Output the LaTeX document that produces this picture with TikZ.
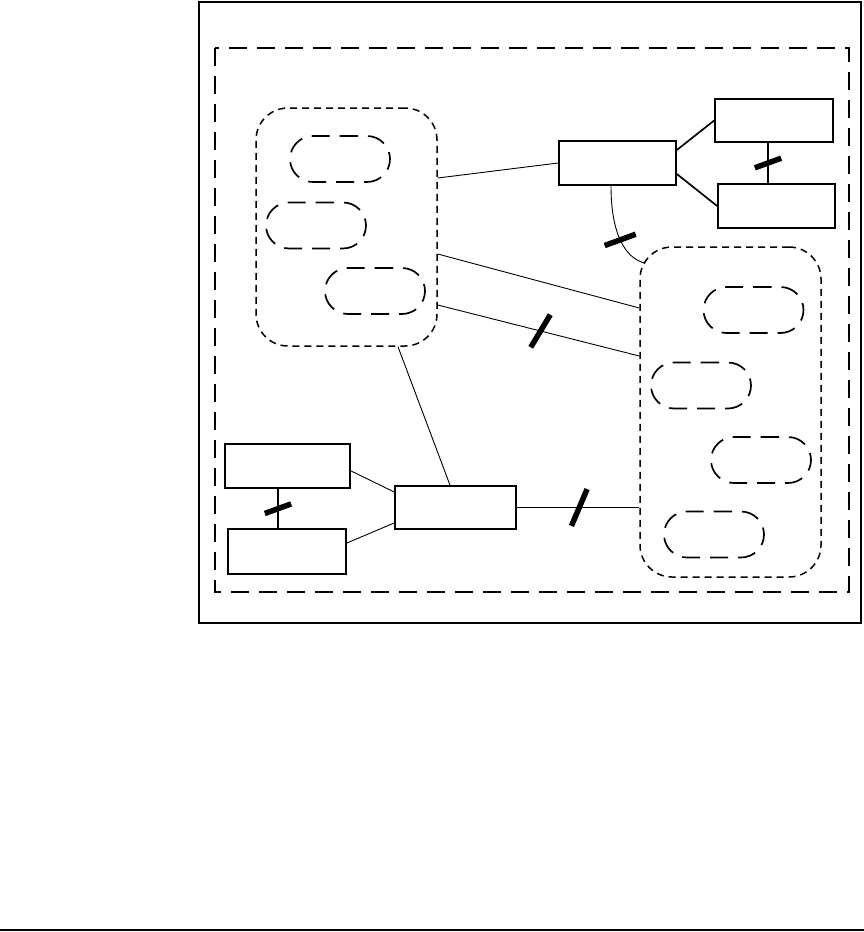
\documentclass[tikz,border=0pt]{standalone}
\usetikzlibrary{positioning,shapes.misc,calc}
\tikzset{
  block/.style={draw,line width=1.7pt,minimum width=117pt,minimum height=44pt,inner sep=0pt},
  group/.style={draw,line width=1.5pt,dash pattern=on 7pt off 5pt,rounded corners=32pt,minimum width=181pt,inner sep=0pt},
  role/.style={rounded rectangle,draw,line width=1.7pt,dash pattern=on 18pt off 10pt,minimum width=100pt,minimum height=46pt,inner sep=0pt},
  link/.style={line width=0.9pt},
  tie/.style={line width=1.7pt},
  cut/.style={fill,minimum width=28pt,minimum height=5.5pt,inner sep=0pt}
}
\begin{document}
\begin{tikzpicture}[x=1pt,y=-1pt]
  \useasboundingbox (0,0) rectangle (864,932);
  % frames
  \draw[line width=2pt] (199,1.5) rectangle (861,623);
  \draw[line width=2pt,dash pattern=on 18pt off 10pt] (215,48) rectangle (849,592);
  \draw[line width=2pt] (0,930) -- (864,930);
  % left group
  \node[group,minimum height=238pt] (lgrp) at (346.5,227) {};
  \node[role] (lr1) at (340,159) {};
  \node[role] (lr2) at (316,225.5) {};
  \node[role] (lr3) at (375,291) {};
  % right group
  \node[group,minimum height=330pt] (rgrp) at (730.5,412) {};
  \node[role] (rr1) at (753.5,310) {};
  \node[role] (rr2) at (701,385.5) {};
  \node[role] (rr3) at (761,460) {};
  \node[role] (rr4) at (714,534.5) {};
  % top blocks
  \node[block] (a) at (617.5,163) {};
  \node[block,minimum width=118pt,minimum height=43pt] (b) at (774,120.5) {};
  \node[block] (c) at (776.5,206) {};
  % bottom blocks
  \node[block,line width=2.4pt,minimum width=125pt] (d) at (287.5,466) {};
  \node[block,minimum width=118pt,minimum height=45pt] (e) at (287,551.5) {};
  \node[block,minimum width=121pt,minimum height=43pt] (f) at (455.5,507.5) {};
  % connectors
  \draw[tie] ([yshift=13pt]a.east) -- (b.west);
  \draw[tie] ([yshift=-11pt]a.east) -- (c.west);
  \draw[tie] (b.south -| 768,0) -- (c.north -| 768,0) node[cut,pos=0.5,rotate=20]{};
  \draw[tie] (d.south -| 278,0) -- (e.north -| 278,0) node[cut,pos=0.5,rotate=20]{};
  \draw[link] ([yshift=49pt]lgrp.east) -- (a.west);
  \draw[link] ([yshift=-27pt]lgrp.east) -- ([yshift=104pt]rgrp.west);
  \draw[link] ([yshift=-78pt]lgrp.east) -- ([yshift=56pt]rgrp.west)
    node[cut,pos=0.51,rotate=59,minimum width=38pt]{};
  \draw[link] ([xshift=51.5pt]lgrp.south) -- ([xshift=-5.5pt]f.north);
  \draw[link] ([yshift=-5pt]d.east) -- ([yshift=15.5pt]f.west);
  \draw[link] ([yshift=8.5pt]e.east) -- ([yshift=-15.5pt]f.west);
  \draw[link] (f.east) -- (f.east -| rgrp.west)
    node[cut,pos=0.51,rotate=67,minimum width=40pt]{};
  \draw[link] ([xshift=-6.5pt]a.south) .. controls (611,232) and (624,258) .. ($(rgrp.north west)+(6,17)$)
    node[cut,pos=0.5,rotate=20,minimum width=33pt]{};
\end{tikzpicture}
\end{document}
